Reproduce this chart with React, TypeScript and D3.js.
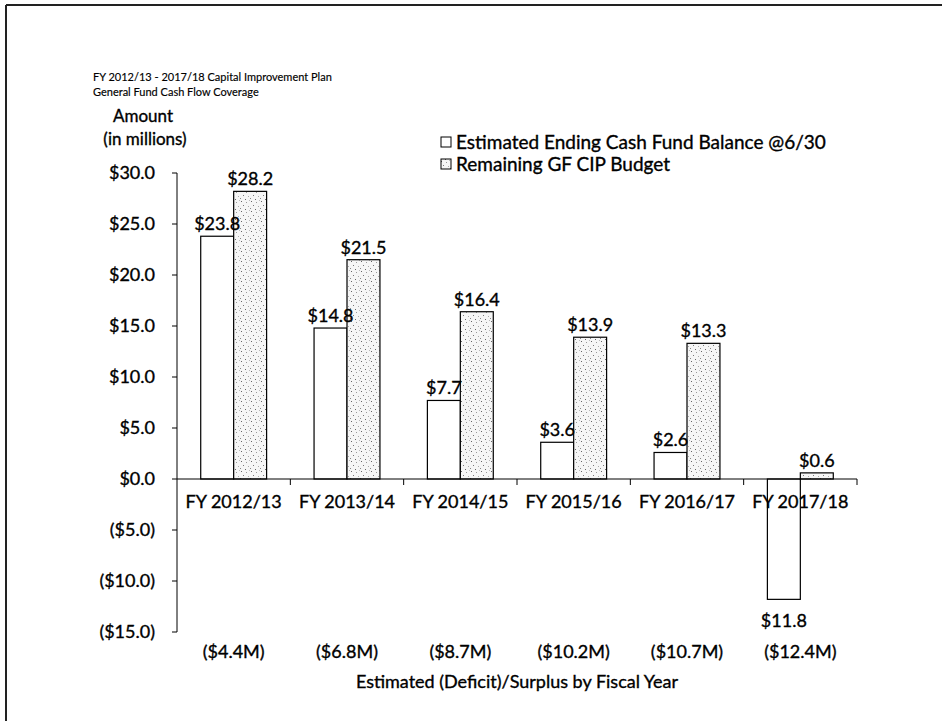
import React from "react";
import * as d3 from "d3";

// chart values
const categories = ["FY 2012/13", "FY 2013/14", "FY 2014/15", "FY 2015/16", "FY 2016/17", "FY 2017/18"];
const cashBalance = [23.8, 14.8, 7.7, 3.6, 2.6, -11.8];
const remainingBudget = [28.2, 21.5, 16.4, 13.9, 13.3, 0.6];
const deficitLabels = ["($4.4M)", "($6.8M)", "($8.7M)", "($10.2M)", "($10.7M)", "($12.4M)"];
const yTicks = [30, 25, 20, 15, 10, 5, 0, -5, -10, -15];
const seriesNames = ["Estimated Ending Cash Fund Balance @6/30", "Remaining GF CIP Budget"];

// fixed speckle positions inside one pattern tile (scanned stipple look)
const stipple = [
  [1, 1, "#666"], [6, 2, "#999"], [3, 5, "#777"], [8, 6, "#aaa"], [0, 8, "#888"], [5, 9, "#666"], [9, 0, "#bbb"]
];

const FONT = "Lato, 'Open Sans', sans-serif";
const INK = "#000";

const fmtAxis = (v: number) => (v < 0 ? `($${(-v).toFixed(1)})` : `$${v.toFixed(1)}`);
const fmtBar = (v: number) => `$${Math.abs(v).toFixed(1)}`;

// slightly heavier text, like the scanned Calibri
const txt = { fontFamily: FONT, fill: INK, stroke: INK, strokeWidth: 0.35 };

export default function App() {
  const width = 942;
  const height = 721;

  const y = d3.scaleLinear().domain([-15, 30]).range([632, 173]);
  const x = d3.scaleBand().domain(categories).range([177, 857]).paddingInner(0).paddingOuter(0);
  const inner = d3
    .scaleBand()
    .domain(["cash", "budget"])
    .range([0, x.bandwidth()])
    .paddingInner(0)
    .paddingOuter(0.72);

  const zero = y(0);

  const bar = (key: string, cat: string, v: number) => {
    const x0 = (x(cat) as number) + (inner(key) as number);
    const top = Math.min(y(v), zero);
    const h = Math.abs(y(v) - zero);
    return { x0, top, h };
  };

  return (
    <div style={{ position: "absolute", left: 0, top: 0 }}>
      <svg width={width} height={height} style={{ display: "block", background: "#fff" }}>
        <defs>
          <pattern id="dots" width={10} height={10} patternUnits="userSpaceOnUse">
            <rect width={10} height={10} fill="#f6f6f6" />
            {stipple.map(([px, py, c], i) => (
              <rect key={i} x={px as number} y={py as number} width={1} height={1} fill={c as string} />
            ))}
          </pattern>
        </defs>

        {/* frame */}
        <line x1={6} x2={width} y1={5} y2={5} stroke="#222" strokeWidth={2} />
        <line x1={6} x2={6} y1={5} y2={height} stroke="#222" strokeWidth={2} />

        {/* title */}
        <text x={93} y={81} fontSize={11} {...txt} strokeWidth={0.15}>
          FY 2012/13 - 2017/18 Capital Improvement Plan
        </text>
        <text x={93} y={96} fontSize={11} {...txt} strokeWidth={0.15}>
          General Fund Cash Flow Coverage
        </text>

        {/* y axis title */}
        <text x={143} y={122} textAnchor="middle" fontSize={17} {...txt}>Amount</text>
        <text x={145} y={145} textAnchor="middle" fontSize={17} {...txt}>(in millions)</text>

        {/* y axis */}
        <line x1={177} x2={177} y1={y(30)} y2={y(-15)} stroke={INK} strokeWidth={1} />
        {yTicks.map((t) => (
          <g key={t}>
            <line x1={172} x2={177} y1={y(t)} y2={y(t)} stroke={INK} />
            <text x={155} y={y(t) + 6} textAnchor="end" fontSize={18} {...txt}>
              {fmtAxis(t)}
            </text>
          </g>
        ))}

        {/* bars */}
        {categories.map((c, i) => {
          const a = bar("cash", c, cashBalance[i]);
          const b = bar("budget", c, remainingBudget[i]);
          const w = inner.bandwidth();
          const aLabelY = cashBalance[i] >= 0 ? a.top - 6 : a.top + a.h + 28;
          return (
            <g key={c}>
              <rect x={a.x0} y={a.top} width={w} height={a.h} fill="#fff" stroke={INK} strokeWidth={1.2} />
              <rect x={b.x0} y={b.top} width={w} height={b.h} fill="url(#dots)" stroke={INK} strokeWidth={1.2} />
              <text x={a.x0 + w / 2} y={aLabelY} textAnchor="middle" fontSize={18} {...txt}>
                {fmtBar(cashBalance[i])}
              </text>
              <text x={b.x0 + w / 2} y={b.top - 6} textAnchor="middle" fontSize={18} {...txt}>
                {fmtBar(remainingBudget[i])}
              </text>
            </g>
          );
        })}

        {/* x axis */}
        <line x1={177} x2={857} y1={zero} y2={zero} stroke={INK} strokeWidth={1} />
        {categories.map((c, i) => (
          <g key={c}>
            <line x1={(x(c) as number) + x.bandwidth()} x2={(x(c) as number) + x.bandwidth()} y1={zero} y2={zero + 6} stroke={INK} />
            <text x={(x(c) as number) + x.bandwidth() / 2} y={zero + 29} textAnchor="middle" fontSize={18} {...txt}>
              {c}
            </text>
            <text x={(x(c) as number) + x.bandwidth() / 2} y={658} textAnchor="middle" fontSize={18} {...txt}>
              {deficitLabels[i]}
            </text>
          </g>
        ))}
        <text x={517} y={688} textAnchor="middle" fontSize={18} {...txt}>
          Estimated (Deficit)/Surplus by Fiscal Year
        </text>

        {/* legend */}
        {seriesNames.map((s, i) => (
          <g key={s}>
            <rect x={441} y={137 + i * 22} width={10} height={10} fill={i === 0 ? "#fff" : "url(#dots)"} stroke={INK} strokeWidth={1} />
            <text x={456} y={149 + i * 22} fontSize={19} {...txt}>
              {s}
            </text>
          </g>
        ))}
      </svg>
    </div>
  );
}
